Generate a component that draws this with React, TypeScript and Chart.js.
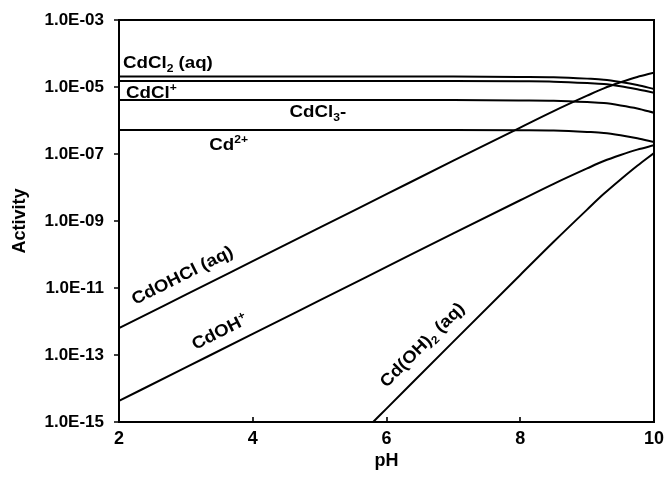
import React, { useEffect, useRef } from 'react';
import { Chart, registerables } from 'chart.js';

Chart.register(...registerables);

// pH grid used for the read-off values
const pHGrid = [2, 3, 4, 5, 6, 7, 8, 8.5, 9, 9.25, 9.5, 9.75, 10];
const pHGridCdOH2 = [5.8, 6, 7, 8, 8.5, 9, 9.25, 9.5, 9.75, 10];

// log10(activity) values
const logCdCl2aq = [-4.69, -4.69, -4.69, -4.69, -4.69, -4.69, -4.7, -4.71, -4.75, -4.78, -4.85, -4.94, -5.06];
const logCdClPlus = [-4.82, -4.82, -4.82, -4.82, -4.82, -4.82, -4.83, -4.84, -4.88, -4.91, -4.98, -5.07, -5.17];
const logCdCl3Minus = [-5.39, -5.39, -5.39, -5.39, -5.39, -5.39, -5.4, -5.41, -5.45, -5.48, -5.55, -5.64, -5.77];
const logCd2Plus = [-6.28, -6.28, -6.28, -6.28, -6.28, -6.28, -6.29, -6.3, -6.34, -6.37, -6.44, -6.53, -6.64];
const logCdOHClaq = [-12.2, -11.2, -10.2, -9.2, -8.2, -7.2, -6.21, -5.72, -5.26, -5.04, -4.86, -4.7, -4.57];
const logCdOHPlus = [-14.37, -13.37, -12.37, -11.37, -10.37, -9.37, -8.38, -7.89, -7.43, -7.21, -7.03, -6.87, -6.74];
const logCdOH2aq = [-15, -14.6, -12.6, -10.61, -9.62, -8.66, -8.19, -7.76, -7.35, -6.97];

// axes
const xTickValues = [2, 4, 6, 8, 10];
const xTickLabels = ['2', '4', '6', '8', '10'];
const yTickExponents = [-3, -5, -7, -9, -11, -13, -15];
const yTickLabels = ['1.0E-03', '1.0E-05', '1.0E-07', '1.0E-09', '1.0E-11', '1.0E-13', '1.0E-15'];
const xTitle = 'pH';
const yTitle = 'Activity';

// species labels: text parts, anchor (pH, log activity) at baseline-left, slope of the line they follow
type Part = { t: string; k: 'n' | 'sub' | 'sup' };
const speciesLabels: { parts: Part[]; pH: number; logA: number; slope: number }[] = [
  { parts: [{ t: 'CdCl', k: 'n' }, { t: '2', k: 'sub' }, { t: ' (aq)', k: 'n' }], pH: 2.06, logA: -4.44, slope: 0 },
  { parts: [{ t: 'CdCl', k: 'n' }, { t: '+', k: 'sup' }], pH: 2.105, logA: -5.32, slope: 0 },
  { parts: [{ t: 'CdCl', k: 'n' }, { t: '3', k: 'sub' }, { t: '-', k: 'n' }], pH: 4.55, logA: -5.89, slope: 0 },
  { parts: [{ t: 'Cd', k: 'n' }, { t: '2+', k: 'sup' }], pH: 3.35, logA: -6.88, slope: 0 },
  { parts: [{ t: 'CdOHCl (aq)', k: 'n' }], pH: 2.24, logA: -11.51, slope: 1 },
  { parts: [{ t: 'CdOH', k: 'n' }, { t: '+', k: 'sup' }], pH: 3.14, logA: -12.85, slope: 1 },
  { parts: [{ t: 'Cd(OH)', k: 'n' }, { t: '2', k: 'sub' }, { t: ' (aq)', k: 'n' }], pH: 6.0, logA: -13.99, slope: 2 },
];

const FONT = "'Liberation Sans', Arial, Helvetica, sans-serif";

const series = [
  { name: 'CdCl2 (aq)', x: pHGrid, v: logCdCl2aq },
  { name: 'CdCl+', x: pHGrid, v: logCdClPlus },
  { name: 'CdCl3-', x: pHGrid, v: logCdCl3Minus },
  { name: 'Cd2+', x: pHGrid, v: logCd2Plus },
  { name: 'CdOHCl (aq)', x: pHGrid, v: logCdOHClaq },
  { name: 'CdOH+', x: pHGrid, v: logCdOHPlus },
  { name: 'Cd(OH)2 (aq)', x: pHGridCdOH2, v: logCdOH2aq },
];

const decorPlugin = {
  id: 'decor',
  afterDatasetsDraw(chart: any) {
    const { ctx, chartArea: a, scales } = chart;
    const x = scales.x;
    const y = scales.y;
    ctx.save();
    ctx.strokeStyle = '#000';
    ctx.lineWidth = 2;
    ctx.strokeRect(a.left, a.top, a.right - a.left, a.bottom - a.top);
    ctx.lineWidth = 1.6;
    ctx.beginPath();
    y.ticks.forEach((t: any) => {
      const py = Math.round(y.getPixelForValue(t.value));
      ctx.moveTo(a.left - 5, py);
      ctx.lineTo(a.left, py);
    });
    x.ticks.forEach((t: any) => {
      const px = Math.round(x.getPixelForValue(t.value));
      ctx.moveTo(px, a.bottom);
      ctx.lineTo(px, a.bottom - 5);
    });
    ctx.stroke();

    const dx = x.getPixelForValue(3) - x.getPixelForValue(2);
    const dy = y.getPixelForValue(1e-5) - y.getPixelForValue(1e-4);
    ctx.fillStyle = '#000';
    ctx.textAlign = 'left';
    ctx.textBaseline = 'alphabetic';
    for (const L of speciesLabels) {
      const px = x.getPixelForValue(L.pH);
      const py = y.getPixelForValue(Math.pow(10, L.logA));
      ctx.save();
      ctx.translate(px, py);
      ctx.rotate(-Math.atan2(L.slope * dy, dx));
      ctx.scale(1.1, 1);
      let cx = 0;
      for (const p of L.parts) {
        const size = p.k === 'n' ? 17 : 11;
        const off = p.k === 'sub' ? 4 : p.k === 'sup' ? -6.5 : 0;
        ctx.font = `bold ${size}px ${FONT}`;
        ctx.fillText(p.t, cx, off);
        cx += ctx.measureText(p.t).width;
      }
      ctx.restore();
    }
    ctx.restore();
  },
};

export default function App() {
  const ref = useRef<HTMLCanvasElement | null>(null);
  useEffect(() => {
    if (!ref.current) return;
    const chart = new Chart(ref.current, {
      type: 'line',
      data: {
        datasets: series.map((s) => ({
          label: s.name,
          data: s.x.map((p, i) => ({ x: p, y: Math.pow(10, s.v[i]) })),
          borderColor: '#000',
          borderWidth: 2,
          pointRadius: 0,
          fill: false,
          cubicInterpolationMode: 'monotone' as const,
        })),
      },
      options: {
        animation: false,
        responsive: true,
        maintainAspectRatio: false,
        events: [],
        layout: { padding: { left: 0, right: 15, top: 20, bottom: 0 } },
        plugins: { legend: { display: false }, tooltip: { enabled: false } },
        scales: {
          x: {
            type: 'linear',
            min: 2,
            max: 10,
            grid: { display: false, drawTicks: false },
            border: { display: false },
            afterBuildTicks: (s: any) => {
              s.ticks = xTickValues.map((v) => ({ value: v }));
            },
            afterFit: (s: any) => {
              s.height = 55;
              s.paddingLeft = 0;
              s.paddingRight = 0;
            },
            ticks: {
              autoSkip: false,
              maxRotation: 0,
              padding: 6,
              color: '#000',
              font: { family: FONT, size: 18, weight: 'bold' },
              callback: (_v: any, i: number) => xTickLabels[i],
            },
            title: {
              display: true,
              text: xTitle,
              color: '#000',
              font: { family: FONT, size: 18, weight: 'bold' },
              padding: { top: 0, bottom: 5.5 },
            },
          },
          y: {
            type: 'logarithmic',
            min: 1e-15,
            max: 1e-3,
            grid: { display: false, drawTicks: false },
            border: { display: false },
            afterBuildTicks: (s: any) => {
              s.ticks = yTickExponents.map((e) => ({ value: Math.pow(10, e) }));
            },
            afterFit: (s: any) => {
              s.width = 119;
              s.paddingTop = 0;
              s.paddingBottom = 0;
            },
            ticks: {
              autoSkip: false,
              padding: 15,
              color: '#000',
              font: { family: FONT, size: 17, weight: 'bold' },
              callback: (_v: any, i: number) => yTickLabels[i],
            },
            title: {
              display: true,
              text: yTitle,
              color: '#000',
              font: { family: FONT, size: 18, weight: 'bold' },
              padding: { top: 9, bottom: 0 },
            },
          },
        },
      },
      plugins: [decorPlugin],
    } as any);
    return () => chart.destroy();
  }, []);

  return (
    <div style={{ position: 'fixed', left: 0, top: 0, width: 669, height: 477, background: '#fff' }}>
      <canvas ref={ref} />
    </div>
  );
}
